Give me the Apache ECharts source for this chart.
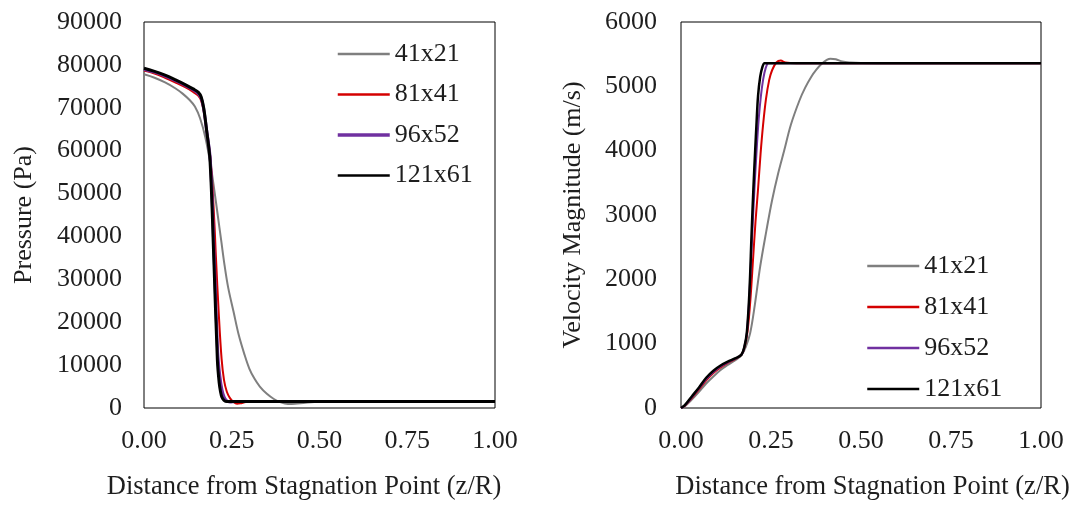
<!DOCTYPE html>
<html>
<head>
<meta charset="utf-8">
<script src="https://cdn.jsdelivr.net/npm/echarts@6/dist/echarts.min.js"></script>
<style>
html,body{margin:0;padding:0;background:#fff;}
#c{width:1078px;height:507px;}
</style>
</head>
<body>
<div id="c"></div>
<script>
// ---- Data ----
const meshNames = ['41x21', '81x41', '96x52', '121x61'];
const xTicks = [0, 0.25, 0.5, 0.75, 1.0];

// Pressure (Pa) vs z/R
const p41x = [0, 0.03, 0.06, 0.09, 0.11, 0.13, 0.145, 0.16, 0.175, 0.19, 0.2, 0.21, 0.22, 0.23, 0.24, 0.255, 0.27, 0.285, 0.3, 0.315, 0.33, 0.35, 0.37, 0.39, 0.41, 0.43, 0.46, 0.5, 0.6, 0.8, 1.0];
const p41y = [77800, 77000, 75900, 74500, 73300, 71800, 70300, 67500, 63000, 56500, 51000, 45000, 39000, 33000, 28000, 22500, 17000, 12800, 9200, 6800, 5000, 3300, 2100, 1300, 950, 1000, 1250, 1450, 1500, 1500, 1500];

const p81x = [0, 0.03, 0.06, 0.09, 0.12, 0.14, 0.155, 0.163, 0.17, 0.178, 0.19, 0.2, 0.205, 0.213, 0.221, 0.228, 0.236, 0.245, 0.255, 0.265, 0.275, 0.29, 0.32, 0.5, 1.0];
const p81y = [78700, 78000, 77000, 75900, 74700, 73700, 72800, 71600, 69300, 65000, 57500, 44000, 35000, 22000, 11500, 6500, 3800, 2300, 1400, 1000, 1100, 1400, 1500, 1500, 1500];

const p96x = [0, 0.03, 0.06, 0.09, 0.12, 0.14, 0.155, 0.163, 0.17, 0.178, 0.189, 0.2, 0.21, 0.216, 0.222, 0.228, 0.235, 0.245, 0.26, 0.3, 0.5, 1.0];
const p96y = [79000, 78300, 77400, 76300, 75100, 74200, 73300, 72200, 69800, 65000, 57800, 35000, 13000, 7500, 4300, 2600, 1700, 1400, 1500, 1500, 1500, 1500];

const p121x = [0, 0.03, 0.06, 0.09, 0.12, 0.14, 0.155, 0.163, 0.17, 0.178, 0.188, 0.199, 0.209, 0.214, 0.218, 0.222, 0.228, 0.236, 0.25, 0.3, 0.5, 1.0];
const p121y = [79200, 78500, 77600, 76500, 75300, 74400, 73600, 72500, 70000, 65000, 57800, 34500, 11200, 6000, 3800, 2500, 1800, 1500, 1500, 1500, 1500, 1500];

// Velocity magnitude (m/s) vs z/R
const v41x = [0, 0.01, 0.03, 0.05, 0.07, 0.09, 0.11, 0.13, 0.15, 0.168, 0.18, 0.192, 0.205, 0.22, 0.237, 0.253, 0.27, 0.287, 0.305, 0.329, 0.345, 0.362, 0.376, 0.391, 0.405, 0.415, 0.43, 0.448, 0.47, 0.5, 0.6, 1.0];
const v41y = [0, 25, 130, 250, 380, 490, 590, 670, 740, 820, 950, 1160, 1600, 2200, 2750, 3230, 3650, 4010, 4400, 4780, 4980, 5150, 5260, 5350, 5410, 5430, 5420, 5385, 5370, 5362, 5360, 5360];

const v81x = [0, 0.01, 0.03, 0.05, 0.07, 0.09, 0.11, 0.13, 0.15, 0.168, 0.177, 0.185, 0.193, 0.2, 0.207, 0.214, 0.221, 0.228, 0.236, 0.245, 0.253, 0.265, 0.277, 0.29, 0.32, 0.5, 1.0];
const v81y = [0, 30, 155, 290, 430, 545, 630, 700, 760, 830, 960, 1200, 1700, 2300, 2900, 3400, 3950, 4400, 4800, 5100, 5250, 5370, 5400, 5370, 5360, 5360, 5360];

const v96x = [0, 0.01, 0.03, 0.05, 0.07, 0.09, 0.11, 0.13, 0.15, 0.168, 0.176, 0.183, 0.19, 0.197, 0.204, 0.21, 0.216, 0.222, 0.228, 0.235, 0.243, 0.25, 0.3, 0.5, 1.0];
const v96y = [0, 35, 165, 305, 450, 560, 645, 710, 765, 830, 950, 1170, 1750, 2600, 3400, 4000, 4500, 4850, 5100, 5280, 5360, 5360, 5360, 5360, 5360];

const v121x = [0, 0.01, 0.03, 0.05, 0.07, 0.09, 0.11, 0.13, 0.15, 0.168, 0.176, 0.183, 0.19, 0.196, 0.201, 0.206, 0.21, 0.214, 0.22, 0.226, 0.232, 0.24, 0.3, 0.5, 1.0];
const v121y = [0, 40, 180, 320, 470, 580, 660, 720, 770, 830, 950, 1180, 1800, 2700, 3400, 4000, 4450, 4850, 5150, 5300, 5360, 5360, 5360, 5360, 5360];

// ---- Chart ----
const FONT = 'Liberation Serif';
const TXT = '#1e1e1e';
const colors = ['#7f7f7f', '#d40000', '#7030a0', '#000000'];

function pairs(xs, ys) { return xs.map((x, i) => [x, ys[i]]); }

const pressure = [pairs(p41x, p41y), pairs(p81x, p81y), pairs(p96x, p96y), pairs(p121x, p121y)];
const velocity = [pairs(v41x, v41y), pairs(v81x, v81y), pairs(v96x, v96y), pairs(v121x, v121y)];
const leftWidths = [2, 2, 3, 3];
const rightWidths = [2, 2, 2, 2.5];

function xAxisCfg(gridIndex, padding) {
  return {
    type: 'value', gridIndex, min: 0, max: 1, interval: 0.25,
    axisLine: { show: false }, axisTick: { show: false }, splitLine: { show: false },
    axisLabel: { color: TXT, fontFamily: FONT, fontSize: 26, margin: 20,
      formatter: v => v.toFixed(2) },
    name: 'Distance from Stagnation Point (z/R)', nameLocation: 'middle', nameGap: 66,
    nameTextStyle: { color: TXT, fontFamily: FONT, fontSize: 26.5, lineHeight: 26, padding }
  };
}
function yAxisCfg(gridIndex, max, interval, name, nameGap, margin) {
  return {
    type: 'value', gridIndex, min: 0, max, interval,
    axisLine: { show: false }, axisTick: { show: false }, splitLine: { show: false },
    axisLabel: { color: TXT, fontFamily: FONT, fontSize: 26, margin, formatter: v => String(v) },
    name, nameLocation: 'middle', nameGap,
    nameTextStyle: { color: TXT, fontFamily: FONT, fontSize: 26, lineHeight: 26 }
  };
}

const series = [];
meshNames.forEach((n, i) => {
  series.push({ name: n, type: 'line', xAxisIndex: 0, yAxisIndex: 0, data: pressure[i],
    symbol: 'none', smooth: 0.35, z: 2 + i,
    lineStyle: { color: colors[i], width: leftWidths[i] }, itemStyle: { color: colors[i] } });
});
meshNames.forEach((n, i) => {
  series.push({ name: n, type: 'line', xAxisIndex: 1, yAxisIndex: 1, data: velocity[i],
    symbol: 'none', smooth: 0.35, z: 2 + i,
    lineStyle: { color: colors[i], width: rightWidths[i] }, itemStyle: { color: colors[i] } });
});

function legendCfg(left, top, gap, widths) {
  return {
    orient: 'vertical', left, top, itemWidth: 52, itemHeight: 14, itemGap: gap,
    padding: 0, selectedMode: false,
    textStyle: { color: TXT, fontFamily: FONT, fontSize: 26, lineHeight: 26 },
    data: meshNames.map((n, i) => ({ name: n,
      itemStyle: { opacity: 0 },
      lineStyle: { color: colors[i], width: widths[i], opacity: 1 } }))
  };
}

const chart = echarts.init(document.getElementById('c'), null, { renderer: 'canvas' });
chart.setOption({
  animation: false,
  backgroundColor: '#fff',
  grid: [
    { left: 144, top: 22, width: 351, height: 386, show: true, borderColor: '#000', borderWidth: 1, backgroundColor: 'transparent' },
    { left: 681, top: 22, width: 360, height: 386, show: true, borderColor: '#000', borderWidth: 1, backgroundColor: 'transparent' }
  ],
  xAxis: [xAxisCfg(0, [0, 31, 0, 0]), xAxisCfg(1, [0, 0, 0, 23])],
  yAxis: [
    yAxisCfg(0, 90000, 10000, 'Pressure (Pa)', 107, 22),
    yAxisCfg(1, 6000, 1000, 'Velocity Magnitude (m/s)', 95, 24)
  ],
  legend: [legendCfg(336, 41, 14.5, [2.5, 2.5, 3.5, 2.5]), legendCfg(866, 253, 15, [2.5, 2.5, 2.5, 2.5])],
  series
});
</script>
</body>
</html>
